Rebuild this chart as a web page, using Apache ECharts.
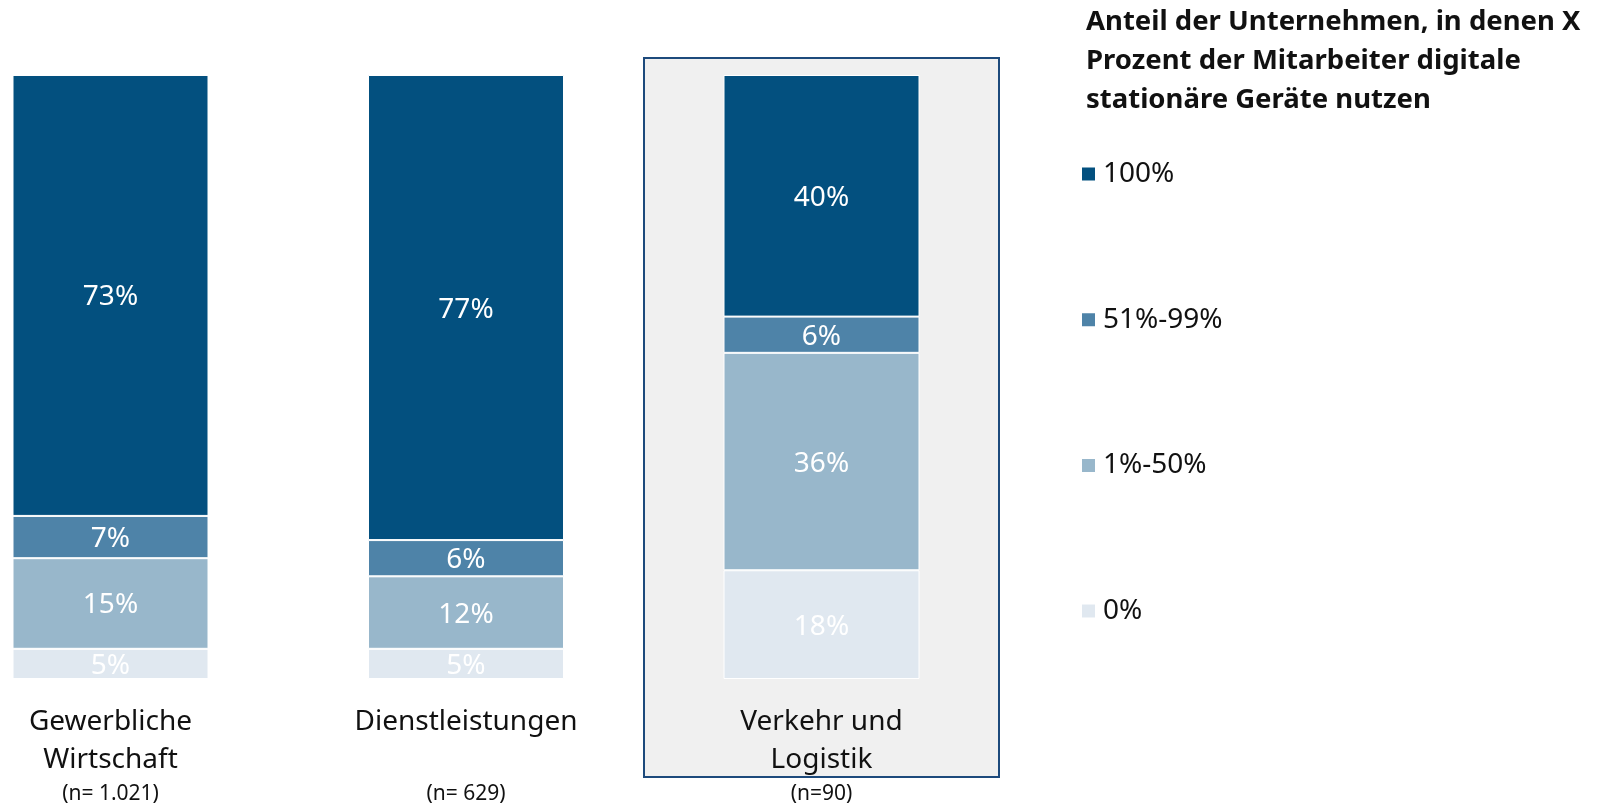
<!DOCTYPE html>
<html lang="de">
<head>
    <meta charset="UTF-8">
    <title>Digitale stationäre Geräte</title>
    <style>
        html, body { margin: 0; padding: 0; background: #fff; }
        #main { width: 1602px; height: 804px; }
    </style>
</head>
<body>
    <div id="main"></div>
    <script src="https://cdn.jsdelivr.net/npm/echarts@6/dist/echarts.min.js"></script>
<script type="text/javascript">
    // Branchen (Zeile 1, Zeile 2, Stichprobe)
    var branchen = ['Gewerbliche Wirtschaft', 'Dienstleistungen', 'Verkehr und Logistik'];
    var zeile1 = ['Gewerbliche', 'Dienstleistungen', 'Verkehr und'];
    var zeile2 = ['Wirtschaft', ' ', 'Logistik'];
    var stichprobe = ['(n= 1.021)', '(n= 629)', '(n=90)'];

    // Anteile in Prozent, von unten nach oben gestapelt
    var anteil0 = [5, 5, 18];        // 0%
    var anteil1bis50 = [15, 12, 36]; // 1%-50%
    var anteil51bis99 = [7, 6, 6];   // 51%-99%
    var anteil100 = [73, 77, 40];    // 100%

    var legendeNamen = ['100%', '51%-99%', '1%-50%', '0%'];
    var farben = {
        '100%': '#03507f',
        '51%-99%': '#4e83a8',
        '1%-50%': '#98b7cb',
        '0%': '#e0e8f0'
    };

    var font = 'Noto Sans';

    function reihe(name, daten) {
        return {
            name: name,
            type: 'bar',
            stack: 'gesamt',
            barWidth: 196,
            clip: false,
            data: daten,
            itemStyle: { color: farben[name], borderColor: '#ffffff', borderWidth: 1 },
            label: {
                show: true,
                position: 'inside',
                offset: [0, 2],
                color: '#ffffff',
                fontFamily: font,
                fontSize: 28,
                formatter: '{c}%'
            }
        };
    }

    var myChart = echarts.init(document.getElementById('main'));

    myChart.setOption({
        animation: false,
        backgroundColor: '#ffffff',
        title: {
            text: 'Anteil der Unternehmen, in denen X\nProzent der Mitarbeiter digitale\nstationäre Geräte nutzen',
            left: 1086,
            top: 3,
            padding: 0,
            textStyle: {
                fontFamily: font,
                fontSize: 27.5,
                fontWeight: 'bold',
                lineHeight: 39,
                color: '#111111'
            }
        },
        legend: {
            orient: 'vertical',
            left: 1080,
            top: 160,
            padding: 0,
            itemWidth: 15,
            itemHeight: 15,
            itemGap: 117.7,
            icon: 'rect',
            data: legendeNamen,
            textStyle: { fontFamily: font, fontSize: 28, color: '#111111', padding: [0, 0, 0, 2] }
        },
        graphic: [{
            type: 'rect',
            z: -10,
            shape: { x: 644, y: 58, width: 355, height: 719 },
            style: { fill: '#f0f0f0', stroke: '#1d4a7c', lineWidth: 2 }
        }],
        // Balken sitzen auf den Ticks (boundaryGap false), Abstand 355.5 px
        grid: {
            left: 110.5, right: 780.5, top: 75, bottom: 125,
            containLabel: false,
            outerBoundsMode: 'none'
        },
        xAxis: {
            type: 'category',
            data: branchen,
            boundaryGap: false,
            axisLine: { show: false },
            axisTick: { show: false },
            splitLine: { show: false },
            axisLabel: {
                margin: 24,
                interval: 0,
                formatter: function (v, i) {
                    return '{a|' + zeile1[i] + '}\n{a|' + zeile2[i] + '}\n{b|' + stichprobe[i] + '}';
                },
                rich: {
                    a: { fontFamily: font, fontSize: 28, lineHeight: 38, color: '#111111' },
                    b: { fontFamily: font, fontSize: 21, lineHeight: 30, color: '#111111' }
                }
            }
        },
        yAxis: {
            type: 'value',
            min: 0,
            max: 100,
            show: false
        },
        series: [
            reihe('0%', anteil0),
            reihe('1%-50%', anteil1bis50),
            reihe('51%-99%', anteil51bis99),
            reihe('100%', anteil100)
        ]
    });
</script>
</body>
</html>
